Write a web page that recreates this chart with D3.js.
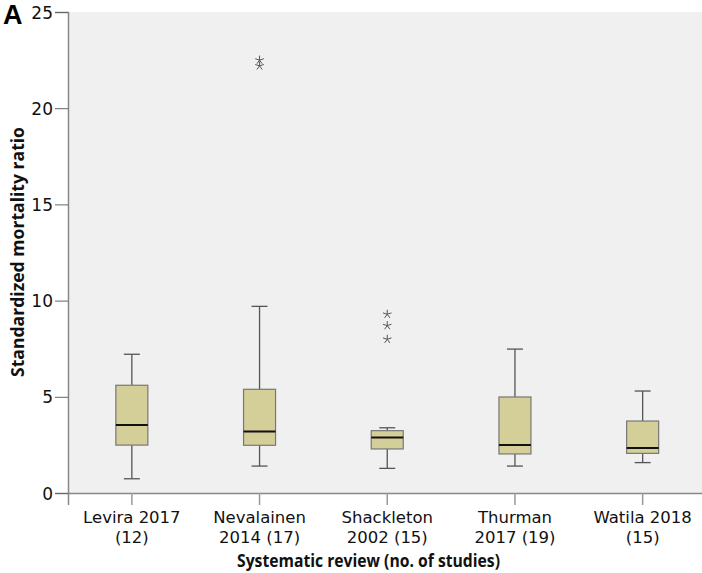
<!DOCTYPE html>
<html><head><meta charset="utf-8">
<script src="https://cdn.jsdelivr.net/npm/d3@7"></script>
<style>body{margin:0;background:#fff;} text{font-family:"DejaVu Sans",sans-serif;}</style>
</head><body>
<svg id="c" width="702" height="573"></svg>
<script>
const categories = [["Levira 2017","(12)"],["Nevalainen","2014 (17)"],["Shackleton","2002 (15)"],["Thurman","2017 (19)"],["Watila 2018","(15)"]];
const whiskerLow  = [0.74, 1.40, 1.28, 1.40, 1.58];
const q1          = [2.49, 2.48, 2.29, 2.03, 2.06];
const medians     = [3.53, 3.19, 2.89, 2.49, 2.34];
const q3          = [5.60, 5.39, 3.24, 4.99, 3.74];
const whiskerHigh = [7.21, 9.70, 3.39, 7.48, 5.30];
const outliers    = [[], [22.5, 22.2], [9.29, 8.70, 7.99], [], []];
const yTicks = [0, 5, 10, 15, 20, 25];

const svg = d3.select("#c");
const pLeft = 68, pRight = 706.5, pTop = 12, pBottom = 493;
const x = d3.scaleBand().domain(categories.map((d,i)=>i)).range([pLeft, pRight]);
const y = d3.scaleLinear().domain([0, 25]).range([pBottom, pTop]);

svg.append("rect").attr("x", pLeft).attr("y", pTop).attr("width", pRight-pLeft).attr("height", pBottom-pTop).attr("fill", "#f0f0f0");

// Y axis
const ya = svg.append("g").attr("transform", `translate(${pLeft},0)`)
  .call(d3.axisLeft(y).tickValues(yTicks).tickSize(13).tickPadding(2).tickFormat(d3.format("d")));
ya.select(".domain").attr("stroke", "#888").attr("stroke-width", 1.5);
ya.selectAll(".tick line").attr("stroke", "#666");
ya.selectAll(".tick text").attr("font-size", 17).attr("fill", "#111").attr("dy", "0.36em");

// X axis
const xa = svg.append("g").attr("transform", `translate(0,${pBottom})`)
  .call(d3.axisBottom(x).tickSize(12).tickFormat(""));
xa.select(".domain").attr("stroke", "#888").attr("stroke-width", 1.5);
xa.selectAll(".tick line").attr("stroke", "#999").attr("stroke-width", 1.5);
xa.selectAll(".tick").each(function(d){
  const g = d3.select(this);
  g.append("text").attr("fill", "#111").attr("font-size", 16.5).attr("text-anchor", "middle")
    .attr("x", 0).attr("y", 30).text(categories[d][0]);
  g.append("text").attr("fill", "#111").attr("font-size", 16.5).attr("text-anchor", "middle")
    .attr("x", 0).attr("y", 49.5).text(categories[d][1]);
});

const bw = 32, cw = 16;
const g = svg.append("g");
categories.forEach((c, i) => {
  const cx = x(i) + x.bandwidth()/2;
  const stroke = "#555";
  g.append("line").attr("x1", cx).attr("x2", cx).attr("y1", y(whiskerHigh[i])).attr("y2", y(q3[i])).attr("stroke", stroke).attr("stroke-width", 1.3);
  g.append("line").attr("x1", cx).attr("x2", cx).attr("y1", y(whiskerLow[i])).attr("y2", y(q1[i])).attr("stroke", stroke).attr("stroke-width", 1.3);
  g.append("line").attr("x1", cx-cw/2).attr("x2", cx+cw/2).attr("y1", y(whiskerHigh[i])).attr("y2", y(whiskerHigh[i])).attr("stroke", stroke).attr("stroke-width", 1.3);
  g.append("line").attr("x1", cx-cw/2).attr("x2", cx+cw/2).attr("y1", y(whiskerLow[i])).attr("y2", y(whiskerLow[i])).attr("stroke", stroke).attr("stroke-width", 1.3);
  g.append("rect").attr("x", cx-bw/2).attr("y", y(q3[i])).attr("width", bw).attr("height", y(q1[i])-y(q3[i]))
    .attr("fill", "#d4cf98").attr("stroke", "#777").attr("stroke-width", 1.2);
  g.append("line").attr("x1", cx-bw/2).attr("x2", cx+bw/2).attr("y1", y(medians[i])).attr("y2", y(medians[i])).attr("stroke", "#111").attr("stroke-width", 2);
  outliers[i].forEach(v => {
    const oy = y(v);
    const r = 4.5;
    let d = "";
    for (let k = 0; k < 5; k++) {
      const a = -Math.PI/2 + k*2*Math.PI/5;
      d += `M${cx},${oy}L${cx + r*Math.cos(a)},${oy + r*Math.sin(a)}`;
    }
    g.append("path").attr("d", d).attr("stroke", "#555").attr("stroke-width", 1).attr("fill", "none");
  });
});

// titles
svg.append("text").attr("x", 368.5).attr("y", 567).attr("text-anchor", "middle")
  .attr("font-size", 18).attr("font-weight", "bold").attr("fill", "#111")
  .style("font-family", "'Open Sans', sans-serif")
  .attr("textLength", 263).attr("lengthAdjust", "spacingAndGlyphs")
  .text("Systematic review (no. of studies)");
svg.append("text").attr("transform", `translate(24,252) rotate(-90)`).attr("text-anchor", "middle")
  .attr("font-size", 18).attr("font-weight", "bold").attr("fill", "#111")
  .style("font-family", "'Open Sans', sans-serif")
  .attr("textLength", 250).attr("lengthAdjust", "spacingAndGlyphs")
  .text("Standardized mortality ratio");
svg.append("text").attr("x", 3).attr("y", 24).attr("font-size", 27).attr("font-weight", "bold")
  .attr("fill", "#000").style("font-family", "'Liberation Sans', Arial, sans-serif").text("A");
</script>
</body></html>
